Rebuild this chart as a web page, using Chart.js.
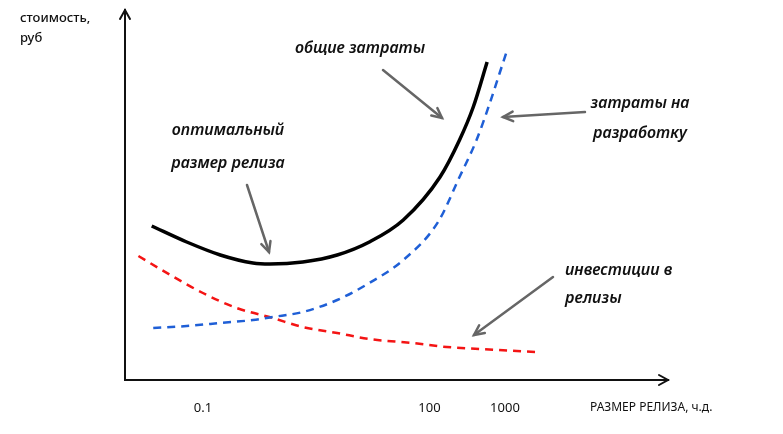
<!DOCTYPE html>
<html>
<head>
<meta charset="utf-8">
<script src="https://cdn.jsdelivr.net/npm/chart.js@4"></script>
<style>
  html, body { margin: 0; padding: 0; background: #fff; }
  #wrap { width: 783px; height: 434px; }
</style>
</head>
<body>
<div id="wrap"><canvas id="cost-chart"></canvas></div>
<script>
// values (x on a log scale, y in arbitrary cost units)
const totalX = [0.021, 0.061, 0.17, 0.46, 0.77, 2.1, 6, 16, 45, 138, 250, 380, 580];
const totalY = [154, 138, 125, 117, 116, 118, 125, 138, 160, 203, 240, 273, 318];

const devX = [0.022, 0.061, 0.17, 0.46, 0.84, 2.1, 6, 16, 45, 130, 250, 420, 630, 850, 1070];
const devY = [52, 54, 57, 60, 63, 68, 80, 97, 120, 158, 203, 240, 277, 307, 330];

const releaseX = [0.014, 0.037, 0.1, 0.28, 0.84, 2.1, 6, 16, 60, 170, 470, 2500];
const releaseY = [124, 105, 87, 72, 62, 53, 47, 41, 37, 33, 31, 28];

const xTicks = [0.1, 100, 1000];
const xTickLabels = ['0.1', '100', '1000'];

const hand = '"Noto Sans", sans-serif';

function toPoints(xs, ys) {
  return xs.map((x, i) => ({ x: x, y: ys[i] }));
}

// text + arrows drawn on top of the chart
const notes = [
  { lines: ['общие затраты'], x: 360, y: 48, gap: 30, align: 'center' },
  { lines: ['затраты на', 'разработку'], x: 640, y: 103, gap: 30, align: 'center' },
  { lines: ['оптимальный', 'размер релиза'], x: 228, y: 130, gap: 33, align: 'center' },
  { lines: ['инвестиции в', 'релизы'], x: 565, y: 270, gap: 28, align: 'left' }
];
const arrows = [
  [383, 70, 442, 118],
  [585, 112, 503, 117],
  [247, 185, 269, 252],
  [553, 277, 474, 335]
];

function arrow(ctx, x1, y1, x2, y2, head) {
  const a = Math.atan2(y2 - y1, x2 - x1);
  ctx.beginPath();
  ctx.moveTo(x1, y1);
  ctx.lineTo(x2, y2);
  ctx.stroke();
  ctx.beginPath();
  ctx.moveTo(x2 - head * Math.cos(a - 0.45), y2 - head * Math.sin(a - 0.45));
  ctx.lineTo(x2, y2);
  ctx.lineTo(x2 - head * Math.cos(a + 0.45), y2 - head * Math.sin(a + 0.45));
  ctx.stroke();
}

const decor = {
  id: 'decor',
  afterDraw(chart) {
    const ctx = chart.ctx;
    const area = chart.chartArea;
    ctx.save();

    // axis arrow heads
    ctx.strokeStyle = '#111';
    ctx.lineWidth = 2;
    ctx.lineCap = 'round';
    ctx.beginPath();
    ctx.moveTo(area.left - 5, area.top + 9);
    ctx.lineTo(area.left, area.top);
    ctx.lineTo(area.left + 5, area.top + 9);
    ctx.moveTo(area.right - 9, area.bottom - 5);
    ctx.lineTo(area.right, area.bottom);
    ctx.lineTo(area.right - 9, area.bottom + 5);
    ctx.stroke();

    // axis titles
    ctx.fillStyle = '#111';
    ctx.textBaseline = 'middle';
    ctx.textAlign = 'left';
    ctx.font = '500 13px ' + hand;
    ctx.fillText('стоимость,', 20, 18);
    ctx.fillText('руб', 20, 38);
    ctx.font = '12px ' + hand;
    ctx.fillText('РАЗМЕР РЕЛИЗА, ч.д.', 590, 408);

    // annotations
    ctx.font = 'italic 600 16px ' + hand;
    notes.forEach(n => {
      ctx.textAlign = n.align;
      n.lines.forEach((l, i) => ctx.fillText(l, n.x, n.y + i * n.gap));
    });

    ctx.strokeStyle = '#666';
    ctx.lineWidth = 2.5;
    arrows.forEach(a => arrow(ctx, a[0], a[1], a[2], a[3], 11));
    ctx.restore();
  }
};

const ctx = document.getElementById('cost-chart').getContext('2d');
const costChart = new Chart(ctx, {
  type: 'line',
  data: {
    datasets: [
      {
        label: 'общие затраты',
        data: toPoints(totalX, totalY),
        borderColor: '#000',
        borderWidth: 3.5,
        cubicInterpolationMode: 'monotone',
        pointRadius: 0
      },
      {
        label: 'затраты на разработку',
        data: toPoints(devX, devY),
        borderColor: '#1f5fd6',
        borderWidth: 2.5,
        borderDash: [8, 6],
        cubicInterpolationMode: 'monotone',
        pointRadius: 0
      },
      {
        label: 'инвестиции в релизы',
        data: toPoints(releaseX, releaseY),
        borderColor: '#f41414',
        borderWidth: 2.5,
        borderDash: [8, 6],
        cubicInterpolationMode: 'monotone',
        pointRadius: 0
      }
    ]
  },
  options: {
    responsive: true,
    maintainAspectRatio: false,
    animation: false,
    layout: {
      padding: { left: 125, right: 115, top: 10, bottom: 0 }
    },
    plugins: {
      legend: { display: false },
      tooltip: { enabled: false }
    },
    scales: {
      x: {
        type: 'logarithmic',
        min: 0.0093,
        max: 144000,
        grid: { display: false },
        border: { display: true, color: '#111', width: 2 },
        afterBuildTicks: axis => {
          axis.ticks = xTicks.map(v => ({ value: v }));
        },
        afterFit: axis => { axis.height = 54; },
        ticks: {
          padding: 12,
          color: '#111',
          font: { family: hand, size: 13 },
          maxRotation: 0,
          autoSkip: false,
          callback: (v) => xTickLabels[xTicks.indexOf(v)]
        }
      },
      y: {
        min: 0,
        max: 370,
        grid: { display: false },
        border: { display: true, color: '#111', width: 2 },
        afterFit: axis => { axis.width = 0; },
        ticks: { display: false }
      }
    }
  },
  plugins: [decor]
});
</script>
</body>
</html>
